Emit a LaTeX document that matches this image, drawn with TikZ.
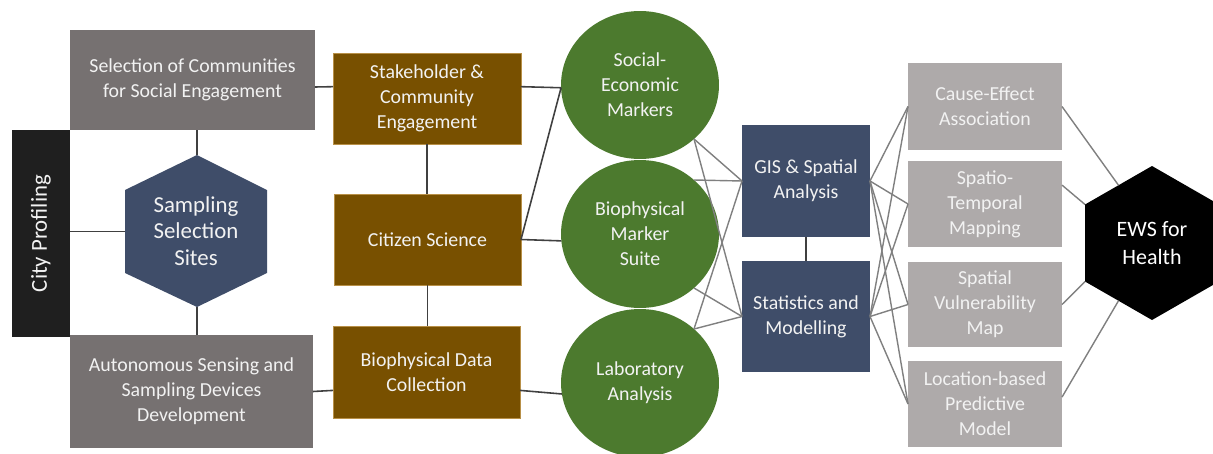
\documentclass[tikz,border=0pt]{standalone}
\usepackage{fontspec}
\setmainfont{Carlito}
\usetikzlibrary{shapes.geometric,calc}
\definecolor{greyL}{HTML}{767171}
\definecolor{greyR}{HTML}{AEAAAA}
\definecolor{cityc}{HTML}{1F1F1F}
\definecolor{navy}{HTML}{3F4D69}
\definecolor{brownc}{HTML}{785000}
\definecolor{brownedge}{HTML}{B89048}
\definecolor{greenc}{HTML}{4C7A2E}
\definecolor{textc}{HTML}{F2F2F2}
\definecolor{lineD}{HTML}{404040}
\definecolor{lineG}{HTML}{808080}
\begin{document}
\begin{tikzpicture}[x=0.02cm,y=-0.02cm,
  txt/.style={text=textc, font=\fontsize{11.3}{14.2}\selectfont, align=center, inner sep=0pt, outer sep=0pt},
  bigtxt/.style={text=textc, font=\fontsize{13}{15.2}\selectfont, align=center, inner sep=0pt, outer sep=0pt},
  gbox/.style={txt, rectangle, fill=greyL},
  rbox/.style={txt, rectangle, fill=greyR, minimum width=3.08cm},
  bbox/.style={txt, rectangle, fill=brownc, draw=brownedge, line width=0.4pt},
  nbox/.style={txt, rectangle, fill=navy, minimum width=2.56cm},
  ell/.style={txt, ellipse, fill=greenc, minimum width=3.16cm, minimum height=2.96cm},
  lnk/.style={draw=lineD, line width=0.9pt},
  lnkG/.style={draw=lineG, line width=0.8pt}]
\clip (0,0) rectangle (1213,453);
\fill[white] (0,0) rectangle (1213,453);

% left column
\node[gbox, minimum width=4.9cm, minimum height=2cm] (sel) at (192.5,80) {Selection of Communities\\for Social Engagement};
\node[gbox, minimum width=4.86cm, minimum height=2.26cm] (auto) at (191.5,391.5) {Autonomous Sensing and\\Sampling Devices\\Development};
\node[bigtxt, rectangle, fill=cityc, minimum width=1.16cm, minimum height=4.14cm] (city) at (41,233.5) {\rotatebox{90}{City Profiling}};

% sampling hexagon
\coordinate (sT) at (197,155);
\coordinate (sUR) at (267,190);
\coordinate (sLR) at (267,273);
\coordinate (sB) at (197,307);
\coordinate (sLL) at (125,273);
\coordinate (sUL) at (125,190);
\fill[navy] (sT) -- (sUR) -- (sLR) -- (sB) -- (sLL) -- (sUL) -- cycle;
\node[bigtxt] (samp) at (196,231) {Sampling\\Selection\\Sites};
\coordinate (sW) at ($(sUL)!0.5!(sLL)$);

% brown column
\node[bbox, minimum width=3.76cm, minimum height=1.82cm] (stake) at (427,98.5) {Stakeholder \&\\Community\\Engagement};
\node[bbox, minimum width=3.74cm, minimum height=1.82cm] (cit) at (427.5,239.5) {Citizen Science};
\node[bbox, minimum width=3.74cm, minimum height=1.84cm] (biod) at (426.5,372) {Biophysical Data\\Collection};

% green ellipses
\node[ell] (soc) at (640,85) {Social-\\Economic\\Markers};
\node[ell] (bioc) at (640,234) {Biophysical\\Marker\\Suite};
\node[ell] (lab) at (640,383) {Laboratory\\Analysis};

% navy boxes
\node[nbox, minimum height=2.24cm] (gis) at (806,181) {GIS \& Spatial\\Analysis};
\node[nbox, minimum height=2.22cm] (stat) at (806,316.5) {Statistics and\\Modelling};

% right grey boxes
\node[rbox, minimum height=1.74cm] (r1) at (985,106.5) {Cause-Effect\\Association};
\node[rbox, minimum height=1.72cm] (r2) at (985,204) {Spatio-\\Temporal\\Mapping};
\node[rbox, minimum height=1.72cm] (r3) at (985,304.5) {Spatial\\Vulnerability\\Map};
\node[rbox, minimum height=1.72cm] (r4) at (985,404) {Location-based\\Predictive\\Model};

% EWS hexagon
\coordinate (eT) at (1152,166);
\coordinate (eUR) at (1219,204.5);
\coordinate (eLR) at (1219,281.5);
\coordinate (eB) at (1152,320);
\coordinate (eLL) at (1085,281.5);
\coordinate (eUL) at (1085,204.5);
\fill[black] (eT) -- (eUR) -- (eLR) -- (eB) -- (eLL) -- (eUL) -- cycle;
\node[bigtxt, font=\fontsize{12.5}{16}\selectfont, text=white] (ews) at (1152,243) {EWS for\\Health};
\coordinate (eUM) at ($(eT)!0.5!(eUL)$);
\coordinate (eLM) at ($(eB)!0.5!(eLL)$);

% left connectors
\draw[lnk] (sT) -- (sT |- sel.south);
\draw[lnk] (sB) -- (sB |- auto.north);
\draw[lnk] (city.east |- sW) -- (sW);
\draw[lnk] ($(sel.north east)!0.57!(sel.south east)$) -- ($(stake.north west)!0.37!(stake.south west)$);
\draw[lnk] (auto.east) -- ($(biod.north west)!0.7!(biod.south west)$);
\draw[lnk] (stake.south) -- (stake.south |- cit.north);
\draw[lnk] (cit.south) -- (cit.south |- biod.north);
\draw[lnk] ($(stake.north east)!0.37!(stake.south east)$) -- (soc.182);
\draw[lnk] (cit.east) -- (soc.182);
\draw[lnk] (cit.east) -- (bioc.185);
\draw[lnk] ($(biod.north east)!0.7!(biod.south east)$) -- (lab.188);

% ellipses to analysis
\draw[lnkG] (soc.315) -- (gis.west);
\draw[lnkG] (soc.315) -- (stat.west);
\draw[lnkG] (bioc.45) -- (gis.west);
\draw[lnkG] (bioc.315) -- (stat.west);
\draw[lnkG] (lab.45) -- (gis.west);
\draw[lnkG] (lab.45) -- (stat.west);
\draw[lnk] (gis.south) -- (gis.south |- stat.north);

% analysis to outputs
\foreach \r in {r1,r2,r3,r4}{
  \draw[lnkG] (gis.east) -- (\r.west);
  \draw[lnkG] (stat.east) -- (\r.west);
}

% outputs to EWS
\draw[lnkG] (r1.east) -- (eUM);
\draw[lnkG] ($(r2.north east)!0.28!(r2.south east)$) -- (eUL);
\draw[lnkG] (r3.east) -- (eLL);
\draw[lnkG] ($(r4.north east)!0.42!(r4.south east)$) -- (eLM);
\end{tikzpicture}
\end{document}
